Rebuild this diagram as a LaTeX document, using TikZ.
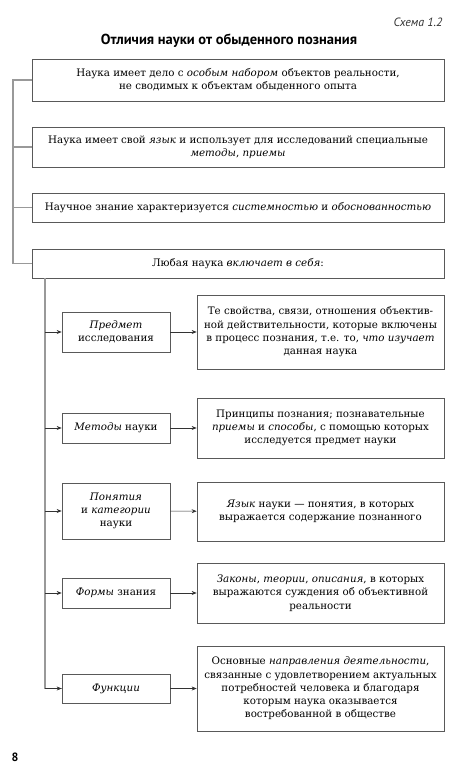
\documentclass[tikz,border=0pt]{standalone}
\usepackage{fontspec}
\setmainfont{DejaVu Serif}
\newfontfamily\headfont{PT Sans}
\usetikzlibrary{positioning, calc, arrows.meta}
\definecolor{linegray}{gray}{0.6}
\definecolor{boxgray}{gray}{0.35}
\definecolor{arrowgray}{gray}{0.2}

\begin{document}
\begin{tikzpicture}[x=1pt, y=-1pt,
    box/.style={draw=boxgray, line width=0.7pt, align=center, inner sep=0pt,
      font=\fontsize{10.3}{13.3}\selectfont},
    wide/.style={box, minimum width=412pt},
    item/.style={box, minimum width=108pt},
    note/.style={box, minimum width=247pt},
    conn/.style={draw=linegray, line width=1.5pt},
    arr/.style={draw=arrowgray, line width=0.6pt, -{Stealth[length=5pt, width=4pt]}}]
    \useasboundingbox (0,0) rectangle (460,772);
    \node[anchor=east, font=\headfont\itshape\fontsize{12}{14}\selectfont, text=black!80] (scheme) at (446,22) {Схема 1.2};
    \node[font=\headfont\bfseries\fontsize{14.5}{17}\selectfont] (title) at (229,41) {Отличия науки от обыденного познания};
    \node[wide, minimum height=42pt] (B1) at (238,80) {Наука имеет дело с \textit{особым набором} объектов реальности,\\ не сводимых к объектам обыденного опыта};
    \node[wide, minimum height=40pt] (B2) at (238,147) {Наука имеет свой \textit{язык} и использует для исследований специальные\\ \textit{методы}, \textit{приемы}};
    \node[wide, minimum height=29pt] (B3) at (238,207.5) {Научное знание характеризуется \textit{системностью} и \textit{обоснованностью}};
    \node[wide, minimum height=29pt] (B4) at (238,263.5) {Любая наука \textit{включает в себя}:};
    \node[item, minimum height=40pt] (P1) at (116,332) {\textit{Предмет}\\ исследования};
    \node[note, minimum height=74pt] (R1) at (320.5,332) {Те свойства, связи, отношения объектив-\\ной действительности, которые включены\\ в процесс познания, т.е. то, \textit{что изучает}\\ данная наука};
    \node[item, minimum height=30pt] (P2) at (116,428) {\textit{Методы} науки};
    \node[note, minimum height=60pt] (R2) at (320.5,428) {Принципы познания; познавательные\\ \textit{приемы} и \textit{способы}, с помощью которых\\ исследуется предмет науки};
    \node[item, minimum height=56pt] (P3) at (116,511) {\textit{Понятия}\\ и \textit{категории}\\ науки};
    \node[note, minimum height=59pt] (R3) at (320.5,511.5) {\textit{Язык} науки — понятия, в которых\\ выражается содержание познанного};
    \node[item, minimum height=30pt] (P4) at (116,593) {\textit{Формы} знания};
    \node[note, minimum height=60pt] (R4) at (320.5,593) {\textit{Законы}, \textit{теории}, \textit{описания}, в которых\\ выражаются суждения об объективной\\ реальности};
    \node[item, minimum height=29pt] (P5) at (116,688.5) {\textit{Функции}};
    \node[note, minimum height=85pt] (R5) at (320.5,688.5) {Основные \textit{направления деятельности},\\ связанные с удовлетворением актуальных\\ потребностей человека и благодаря\\ которым наука оказывается\\ востребованной в обществе};
    \node[font=\headfont\bfseries\fontsize{12}{14}\selectfont] (page) at (15,757) {8};
    % outer bracket
    \coordinate (L) at (13,0);
    \coordinate (T) at (45,0);
    \draw[conn] (B1.west) -- (B1.west -| L) |- (B4.west);
    \draw[conn] (B2.west) -- (B2.west -| L);
    \draw[conn] (B3.west) -- (B3.west -| L);
    % inner bracket
    \draw[conn] (B4.south -| T) |- (P5.west);
    \foreach \i in {1,...,5} {
      \draw[arr] (P\i.west -| T) -- (P\i.west);
      \draw[arr] (P\i) -- (R\i);
    }
\end{tikzpicture}
\end{document}
